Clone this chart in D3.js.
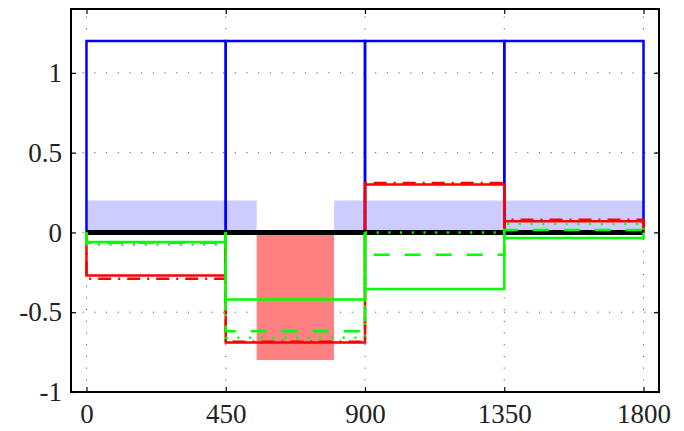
<!DOCTYPE html>
<html>
<head>
<meta charset="utf-8">
<script src="https://cdn.jsdelivr.net/npm/d3@7/dist/d3.min.js"></script>
<style>
  html, body { margin: 0; padding: 0; background: #fff; }
  svg { display: block; }
  .tick text { font-family: "Liberation Serif", "DejaVu Serif", serif; font-size: 27px; fill: #222; }
</style>
</head>
<body>
<svg id="chart" width="684" height="431"></svg>
<script>
// Interval edges of the four stages
const edges = [0, 450, 900, 1350, 1800];

// Stage values for each series
const blueBars     = [1.2, 1.2, 1.2, 1.2];
const redSolid     = [-0.27, -0.69, 0.30, 0.07];
const redDashDot   = [-0.29, -0.685, 0.309, 0.08];
const greenSolid   = [-0.06, -0.42, -0.355, -0.035];
const greenDashed  = [-0.065, -0.62, -0.14, 0.015];
const greenDotted  = [-0.075, -0.66, 0.0, 0.055];

// Shaded bands: [x0, x1, y0, y1]
const blueBands = [[0, 550, 0, 0.2], [800, 1800, 0, 0.2]];
const redBands  = [[550, 800, -0.8, 0]];

// Axis ticks
const xTicks = [0, 450, 900, 1350, 1800];
const yTicks = [1, 0.5, 0, -0.5, -1];
const yTickLabels = ["1", "0.5", "0", "-0.5", "-1"];

const svg = d3.select("#chart");
const L = 71, R = 659, T = 9, B = 392;

const x = d3.scaleLinear().domain([-50, 1850]).range([L, R]);
const y = d3.scaleLinear().domain([-1, 1.4]).range([B, T]);

// Dotted grid
const grid = svg.append("g").attr("stroke", "#444").attr("stroke-width", 1)
  .attr("stroke-dasharray", "1,10.7");
xTicks.forEach(v => grid.append("line")
  .attr("x1", x(v)).attr("x2", x(v)).attr("y1", B).attr("y2", T));
yTicks.forEach(v => grid.append("line")
  .attr("x1", L).attr("x2", R).attr("y1", y(v)).attr("y2", y(v)));

// Shaded bands
function band(d, color) {
  svg.append("rect")
    .attr("x", x(d[0])).attr("width", x(d[1]) - x(d[0]))
    .attr("y", y(d[3])).attr("height", y(d[2]) - y(d[3]))
    .attr("fill", color);
}
blueBands.forEach(d => band(d, "#ccccff"));
redBands.forEach(d => band(d, "#ff8080"));

// Each series drawn as bar outlines rising from zero
function bars(vals, color, dash) {
  const g = svg.append("g");
  vals.forEach((v, i) => {
    const p = d3.path();
    p.moveTo(x(edges[i]), y(0));
    p.lineTo(x(edges[i]), y(v));
    p.lineTo(x(edges[i + 1]), y(v));
    p.lineTo(x(edges[i + 1]), y(0));
    g.append("path").attr("d", p.toString())
      .attr("fill", "none").attr("stroke", color).attr("stroke-width", 2.5)
      .attr("stroke-dasharray", dash || null);
  });
}

bars(blueBars, "#0000ff");
bars(redSolid, "#ff0000");
bars(redDashDot, "#ff0000", "13,7,2,7");

// Zero reference line
svg.append("line")
  .attr("x1", x(0)).attr("x2", x(1800)).attr("y1", y(0)).attr("y2", y(0))
  .attr("stroke", "#000").attr("stroke-width", 5);

bars(greenSolid, "#00ff00");
bars(greenDashed, "#00ff00", "16,15");
bars(greenDotted, "#00ff00", "2,9.7");

// Axes with inward ticks on all four sides
const ax = svg.append("g");
ax.append("g").attr("transform", `translate(0,${B})`)
  .call(d3.axisBottom(x).tickValues(xTicks).tickSize(-5).tickPadding(12).tickFormat(d3.format("d")));
ax.append("g").attr("transform", `translate(0,${T})`)
  .call(d3.axisTop(x).tickValues(xTicks).tickSize(-5).tickFormat(""));
ax.append("g").attr("transform", `translate(${L},0)`)
  .call(d3.axisLeft(y).tickValues(yTicks).tickSize(-5).tickPadding(9)
    .tickFormat((d, i) => yTickLabels[i]));
ax.append("g").attr("transform", `translate(${R},0)`)
  .call(d3.axisRight(y).tickValues(yTicks).tickSize(-5).tickFormat(""));
ax.selectAll(".domain").remove();
ax.selectAll(".tick line").attr("stroke", "#000").attr("stroke-width", 1.2);

// Frame
svg.append("rect").attr("x", L).attr("y", T).attr("width", R - L).attr("height", B - T)
  .attr("fill", "none").attr("stroke", "#000").attr("stroke-width", 2);
</script>
</body>
</html>
